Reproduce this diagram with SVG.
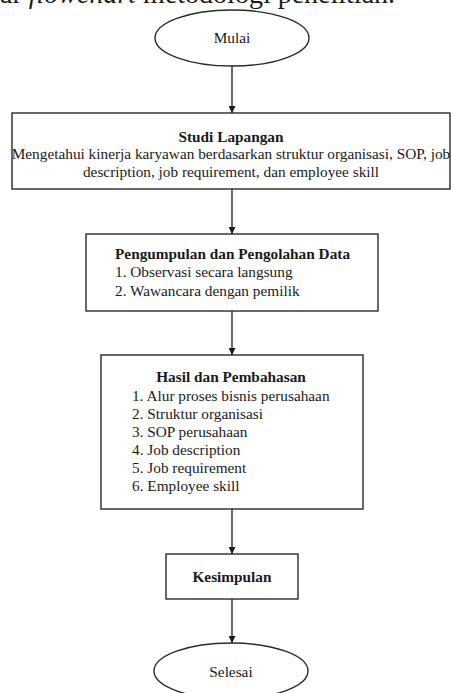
<svg xmlns="http://www.w3.org/2000/svg" width="451" height="693" viewBox="0 0 451 693">
<style>
  .shape { fill: #ffffff; stroke: #2a2a2a; stroke-width: 1.4; }
  .conn { stroke: #2a2a2a; stroke-width: 1.4; fill: none; marker-end: url(#arrow); }
  text { font-family: "Liberation Serif", "Times New Roman", serif; fill: #1a1a1a; font-size: 15.3px; }
  .b { font-weight: bold; }
  .c { text-anchor: middle; }
  .cap { font-size: 28px; }
</style>
<defs>
  <marker id="arrow" viewBox="0 0 10 10" refX="10" refY="5" markerWidth="7" markerHeight="7" markerUnits="userSpaceOnUse" orient="auto">
    <path d="M0,0 L10,5 L0,10 z" fill="#1a1a1a"/>
  </marker>
</defs>
<rect width="451" height="693" fill="#ffffff"/>
<text class="cap" x="0" y="3">ar <tspan font-style="italic">flowchart</tspan> metodologi penelitian.</text>
<g id="connectors">
  <line class="conn" x1="232" y1="66" x2="232" y2="113"/>
  <line class="conn" x1="232" y1="189" x2="232" y2="234"/>
  <line class="conn" x1="232" y1="311" x2="232" y2="355"/>
  <line class="conn" x1="232" y1="509" x2="232" y2="554"/>
  <line class="conn" x1="232" y1="599" x2="232" y2="643"/>
</g>
<g id="mulai">
  <ellipse class="shape" cx="232" cy="38" rx="77" ry="28"/>
  <text class="c" x="232" y="43">Mulai</text>
</g>
<g id="studi-lapangan">
  <rect class="shape" x="12" y="113" width="438" height="76"/>
  <text class="c b" x="231" y="142">Studi Lapangan</text>
  <text class="c" x="231" y="159">Mengetahui kinerja karyawan berdasarkan struktur organisasi, SOP, job</text>
  <text class="c" x="231" y="177">description, job requirement, dan employee skill</text>
</g>
<g id="pengumpulan">
  <rect class="shape" x="86" y="234" width="292" height="77"/>
  <text class="b" x="115" y="259">Pengumpulan dan Pengolahan Data</text>
  <text x="115" y="277">1. Observasi secara langsung</text>
  <text x="115" y="296">2. Wawancara dengan pemilik</text>
</g>
<g id="hasil">
  <rect class="shape" x="101" y="355" width="262" height="154"/>
  <text class="c b" x="231" y="382">Hasil dan Pembahasan</text>
  <text x="132" y="401">1. Alur proses bisnis perusahaan</text>
  <text x="132" y="419">2. Struktur organisasi</text>
  <text x="132" y="437">3. SOP perusahaan</text>
  <text x="132" y="455">4. Job description</text>
  <text x="132" y="473">5. Job requirement</text>
  <text x="132" y="491">6. Employee skill</text>
</g>
<g id="kesimpulan">
  <rect class="shape" x="166" y="554" width="132" height="45"/>
  <text class="c b" x="232" y="582">Kesimpulan</text>
</g>
<g id="selesai">
  <ellipse class="shape" cx="231" cy="671" rx="77" ry="28"/>
  <text class="c" x="231" y="677">Selesai</text>
</g>
</svg>
